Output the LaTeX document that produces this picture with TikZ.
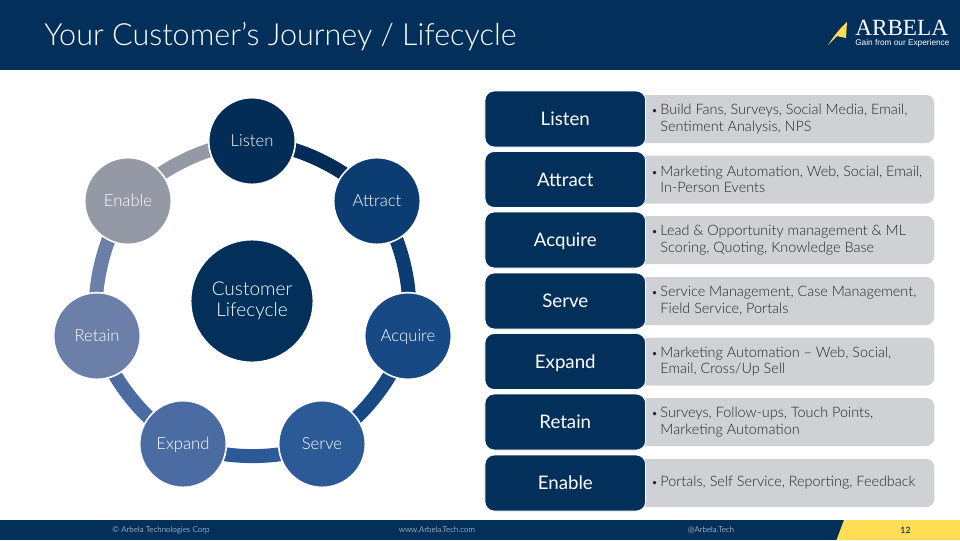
\documentclass[tikz,border=0pt]{standalone}
\usepackage{fontspec}
\setmainfont{Lato}[UprightFont=* Light]
\newfontfamily\stagefont{Lato}
\usetikzlibrary{positioning,backgrounds}
\definecolor{navy}{HTML}{03305A}
\definecolor{stepA}{HTML}{032C57}
\definecolor{stepB}{HTML}{0B3C72}
\definecolor{stepC}{HTML}{174A85}
\definecolor{stepD}{HTML}{2B5A97}
\definecolor{stepE}{HTML}{4A6CA3}
\definecolor{stepF}{HTML}{6C7FA9}
\definecolor{stepG}{HTML}{9599A6}
\definecolor{panel}{HTML}{D0D1D4}
\definecolor{sail}{HTML}{FFDD55}

\begin{document}
\begin{tikzpicture}[
  x=0.75pt, y=-0.75pt,
  node distance=0pt,
  round/.style={circle, draw=white, line width=1.2pt, inner sep=0pt, text=white},
  hub/.style={round, minimum size=92pt, align=center, font=\fontsize{14.3}{16}\selectfont},
  ball/.style={round, minimum size=65pt, text height=9.5pt, text depth=1pt, font=\fontsize{12.5}{15}\selectfont},
  stage/.style={draw=white, line width=0.6pt, rounded corners=7pt, fill=navy, text=white, minimum width=120.5pt, minimum height=42pt, inner sep=0pt, text height=12pt, text depth=2.2pt, font=\fontsize{14}{17}\selectfont\stagefont},
  info/.style={fill=panel, rounded corners=6pt, minimum width=228pt, minimum height=36pt, inner sep=0pt},
  infotext/.style={anchor=west, align=left, inner sep=0pt, font=\fontsize{10.8}{12.4}\selectfont, text=black!85},
  link/.style={line width=10.5pt, bend left=20, looseness=0.87},
  foot/.style={text=white, font=\fontsize{6}{7}\selectfont, inner sep=0pt}
]
\newcommand{\tick}{\makebox[6.9pt][l]{\fontsize{8.5}{8.5}\selectfont •}}
\useasboundingbox (0,0) rectangle (960,540);
% header and footer
\fill[navy] (0,0) rectangle (960,70);
\fill[navy] (0,520) rectangle (960,540);
\fill[sail] (844,520) -- (960,520) -- (960,540) -- (836.5,540) -- cycle;
\node[anchor=base west, text=white, inner sep=0pt, font=\fontsize{22.9}{28}\selectfont] (title) at (44,45) {Your Customer's Journey / Lifecycle};
% logo
\fill[sail] (847,22) -- (846,38) -- (837,36) -- (828,45) .. controls (834,36) and (840,28) .. (847,22) -- cycle;
\node[anchor=west, text=white, inner sep=0pt, font=\fontsize{17.4}{18}\selectfont] (logo) at (855,28) {\fontspec{Liberation Serif}ARBELA};
\node[below=2.5pt of logo.south west, anchor=north west, text=white, inner sep=0pt, font=\fontsize{6.2}{7}\selectfont] (slogan) {\fontspec{Liberation Sans}Gain from our Experience};
% cycle
\node[hub, fill=navy] (core) at (252,301) {Customer\\Lifecycle};
\node[ball, fill=stepA] (listen) at (252,141) {Listen};
\node[ball, fill=stepB] (attract) at (377,201) {Attract};
\node[ball, fill=stepC] (acquire) at (408,336) {Acquire};
\node[ball, fill=stepD] (serve) at (322,444) {Serve};
\node[ball, fill=stepE] (expand) at (183,444) {Expand};
\node[ball, fill=stepF] (retain) at (97,336) {Retain};
\node[ball, fill=stepG] (enable) at (128,201) {Enable};
\begin{scope}[on background layer]
\draw[link, draw=stepA] (listen.center) to (attract.center);
\draw[link, draw=stepB] (attract.center) to (acquire.center);
\draw[link, draw=stepC] (acquire.center) to (serve.center);
\draw[link, draw=stepD] (serve.center) to (expand.center);
\draw[link, draw=stepE] (expand.center) to (retain.center);
\draw[link, draw=stepF] (retain.center) to (enable.center);
\draw[link, draw=stepG] (enable.center) to (listen.center);
\end{scope}
% right column
\node[info, anchor=west] (infoA) at (630,119) {};
\node[info, anchor=west] (infoB) at (630,179.5) {};
\node[info, anchor=west] (infoC) at (630,240) {};
\node[info, anchor=west] (infoD) at (630,301) {};
\node[info, anchor=west] (infoE) at (630,361.5) {};
\node[info, anchor=west] (infoF) at (630,422) {};
\node[info, anchor=west] (infoG) at (630,483) {};
\node[stage, anchor=east] (stageA) at (646,119) {Listen};
\node[stage, anchor=east] (stageB) at (646,179.5) {Attract};
\node[stage, anchor=east] (stageC) at (646,240) {Acquire};
\node[stage, anchor=east] (stageD) at (646,301) {Serve};
\node[stage, anchor=east] (stageE) at (646,361.5) {Expand};
\node[stage, anchor=east] (stageF) at (646,422) {Retain};
\node[stage, anchor=east] (stageG) at (646,483) {Enable};
\node[infotext] (textA) at (651,119) {\tick Build Fans, Surveys, Social Media, Email,\\\hspace{6.9pt}Sentiment Analysis, NPS};
\node[infotext] (textB) at (651,179.5) {\tick Marketing Automation, Web, Social, Email,\\\hspace{6.9pt}In-Person Events};
\node[infotext] (textC) at (651,240) {\tick Lead \& Opportunity management \& ML\\\hspace{6.9pt}Scoring, Quoting, Knowledge Base};
\node[infotext] (textD) at (651,301) {\tick Service Management, Case Management,\\\hspace{6.9pt}Field Service, Portals};
\node[infotext] (textE) at (651,361.5) {\tick Marketing Automation – Web, Social,\\\hspace{6.9pt}Email, Cross/Up Sell};
\node[infotext] (textF) at (651,422) {\tick Surveys, Follow-ups, Touch Points,\\\hspace{6.9pt}Marketing Automation};
\node[infotext] (textG) at (651,483) {\tick Portals, Self Service, Reporting, Feedback};
% footer labels
\node[foot] (copy) at (161,530) {© Arbela Technologies Corp};
\node[foot] (web) at (437,530) {www.Arbela.Tech.com};
\node[foot] (handle) at (711,530) {@Arbela.Tech};
\node[foot, text=navy, font=\fontsize{6.5}{8}\selectfont\bfseries] (page) at (905.5,530) {12};
\end{tikzpicture}
\end{document}
